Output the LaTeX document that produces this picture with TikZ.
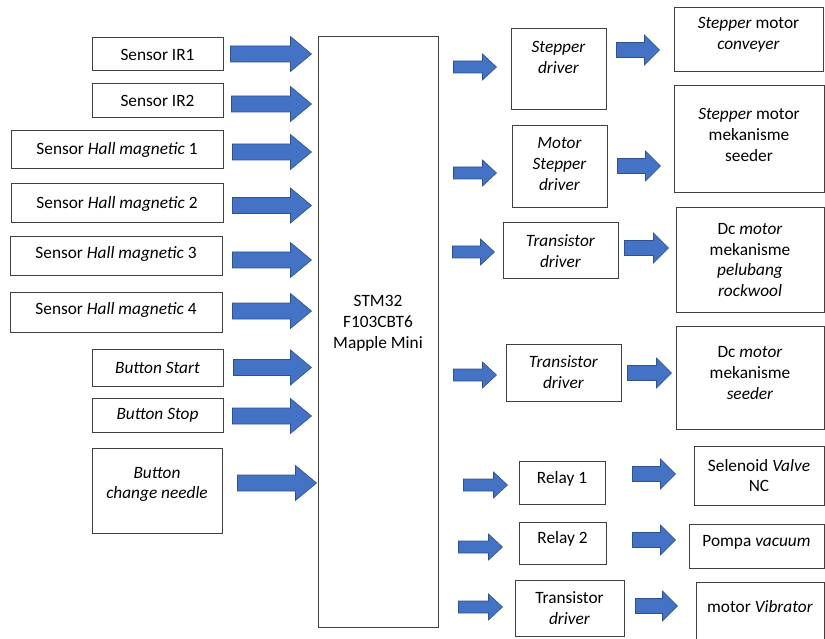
\documentclass[tikz,border=0pt]{standalone}
\usepackage{fontspec}
\setmainfont{Carlito}
\usetikzlibrary{calc}
\definecolor{arrowfill}{HTML}{4472C4}
\definecolor{arrowedge}{HTML}{2F528F}
\definecolor{boxline}{HTML}{404040}
\begin{document}
\begin{tikzpicture}[x=1pt, y=-1pt,
    box/.style 2 args={draw=boxline, line width=1pt, align=center, inner sep=0pt,
      minimum width=#1pt, minimum height=#2pt, font=\fontsize{17.3}{20.8}\selectfont},
    lift/.style={text depth=#1},
    blk/.style n args={3}{draw=arrowedge, fill=arrowfill, line width=0.6pt,
      to path={let \p1=(\tikztostart), \p2=(\tikztotarget) in
        (\x1,\y1+#1) -- (\x2-#3,\y1+#1) -- (\x2-#3,\y1+#2) -- (\x2,\y1)
        -- (\x2-#3,\y1-#2) -- (\x2-#3,\y1-#1) -- (\x1,\y1-#1) -- cycle}},
    bigarrow/.style={blk={8pt}{17.5pt}{21pt}},
    inarrow/.style={blk={6pt}{13pt}{14pt}},
    outarrow/.style={blk={7.5pt}{15pt}{15pt}}]
    \useasboundingbox (0,0) rectangle (825,639);

    % Masukan (kiri)
    \node[box={131}{33}] (ir1) at (157.5,54.5) {Sensor IR1};
    \node[box={131}{34}] (ir2) at (157.5,101) {Sensor IR2};
    \node[box={212}{38}] (hall1) at (117,150) {Sensor \textit{Hall magnetic} 1};
    \node[box={212}{39}] (hall2) at (117,203.5) {Sensor \textit{Hall magnetic} 2};
    \node[box={212}{39}, lift=8pt] (hall3) at (116,256.5) {Sensor \textit{Hall magnetic} 3};
    \node[box={212}{39}, lift=8pt] (hall4) at (116,312.5) {Sensor \textit{Hall magnetic} 4};
    \node[box={131}{37}] (bstart) at (157.5,367.5) {\textit{Button Start}};
    \node[box={131}{34}] (bstop) at (157.5,415) {\textit{Button Stop}};
    \node[box={130}{85}, lift=15pt] (bneed) at (157,490.5) {\textit{Button}\\\textit{change needle}};

    % Mikrokontroler
    \node[box={120}{590}, lift=20pt] (main) at (378,332) {STM32\\F103CBT6\\Mapple Mini};

    % Driver
    \node[box={95}{81}, lift=25pt] (drvA) at (558.5,69.5) {\textit{Stepper}\\\textit{driver}};
    \node[box={95}{82}, lift=6pt] (drvB) at (559.5,167) {\textit{Motor}\\\textit{Stepper}\\\textit{driver}};
    \node[box={115}{56}] (trA) at (560.5,251) {\textit{Transistor}\\\textit{driver}};
    \node[box={115}{57}] (trB) at (563.5,372.5) {\textit{Transistor}\\\textit{driver}};
    \node[box={86}{43}, lift=11pt] (rel1) at (562,482.5) {Relay 1};
    \node[box={87}{42}, lift=11pt] (rel2) at (562.5,543) {Relay 2};
    \node[box={109}{56}] (trC) at (569.5,608) {Transistor\\\textit{driver}};

    % Aktuator (kanan)
    \node[box={149}{64}, lift=14pt] (motA) at (748.5,40) {\textit{Stepper} motor\\\textit{conveyer}};
    \node[box={150}{107}, lift=9pt] (motB) at (749,139.5) {\textit{Stepper} motor\\mekanisme\\seeder};
    \node[box={148}{104}] (motC) at (750,260) {Dc \textit{motor}\\mekanisme\\\textit{pelubang}\\\textit{rockwool}};
    \node[box={148}{103}, lift=9pt] (motD) at (750,377.5) {Dc \textit{motor}\\mekanisme\\\textit{seeder}};
    \node[box={130}{59}] (sol) at (759,475.5) {Selenoid \textit{Valve}\\NC};
    \node[box={135}{44}, lift=11pt] (pump) at (756.5,546) {Pompa \textit{vacuum}};
    \node[box={128}{90}, lift=42pt] (vib) at (760,627) {motor \textit{Vibrator}};

    % Panah masukan
    \draw[bigarrow] ($(ir1.east)+(7,-0.5)$) to ($(main.west)+(-6,0)$);
    \draw[bigarrow] ($(ir2.east)+(8,3)$) to ($(main.west)+(-6,0)$);
    \draw[bigarrow] ($(hall1.east)+(9,2)$) to ($(main.west)+(-6,0)$);
    \draw[bigarrow] ($(hall2.east)+(9,2)$) to ($(main.west)+(-6,0)$);
    \draw[bigarrow] ($(hall3.east)+(10,3.5)$) to ($(main.west)+(-6,0)$);
    \draw[bigarrow] ($(hall4.east)+(10,-1.5)$) to ($(main.west)+(-6,0)$);
    \draw[bigarrow] ($(bstart.east)+(10,0)$) to ($(main.west)+(-6,0)$);
    \draw[bigarrow] ($(bstop.east)+(9,1)$) to ($(main.west)+(-6,0)$);
    \draw[bigarrow] ($(bneed.east)+(15,-7.5)$) to ($(main.west)+(-1,0)$);

    % Panah keluaran
    \draw[inarrow] ($(main.east|-drvA.west)+(15,-2.5)$) to ($(drvA.west)+(-14,0)$);
    \draw[inarrow] ($(main.east|-drvB.west)+(15,6)$) to ($(drvB.west)+(-15,0)$);
    \draw[inarrow] ($(main.east|-trA.west)+(14,1)$) to ($(trA.west)+(-8,0)$);
    \draw[inarrow] ($(main.east|-trB.west)+(15,2.5)$) to ($(trB.west)+(-9,0)$);
    \draw[inarrow] ($(main.east|-rel1.west)+(25,2.5)$) to ($(rel1.west)+(-11,0)$);
    \draw[inarrow] ($(main.east|-rel2.west)+(20,4)$) to ($(rel2.west)+(-16,0)$);
    \draw[inarrow] ($(main.east|-trC.west)+(20,-1)$) to ($(trC.west)+(-12,0)$);

    \draw[outarrow] ($(drvA.east)+(10,-19.5)$) to ($(motA.west)+(-14,0)$);
    \draw[outarrow] ($(drvB.east)+(10,-1)$) to ($(motB.west)+(-13,0)$);
    \draw[outarrow] ($(trA.east)+(6,-3)$) to ($(motC.west)+(-7,0)$);
    \draw[outarrow] ($(trB.east)+(6,0.5)$) to ($(motD.west)+(-4,0)$);
    \draw[outarrow] ($(rel1.east)+(27,-8.5)$) to ($(sol.west)+(-18,0)$);
    \draw[outarrow] ($(rel2.east)+(26,-3)$) to ($(pump.west)+(-13,0)$);
    \draw[outarrow] ($(trC.east)+(11,-2)$) to ($(vib.west)+(-18,0)$);
\end{tikzpicture}
\end{document}
